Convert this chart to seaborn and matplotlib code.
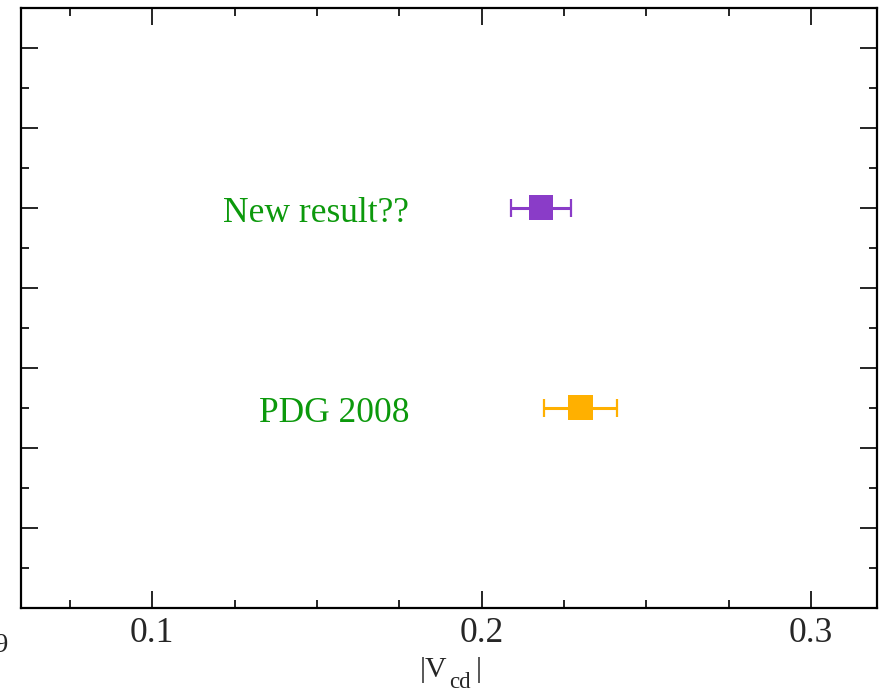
import numpy as np
import pandas as pd
import matplotlib
matplotlib.use("Agg")
import matplotlib.pyplot as plt
import seaborn as sns
from matplotlib.ticker import MultipleLocator, NullFormatter, FixedLocator

# ---- data ----
labels = ["New result??", "PDG 2008"]
vcd = [0.218, 0.230]
vcd_err = [0.009, 0.011]
ypos = [5.0, 2.5]
colors = ["#8a3cc8", "#ffb000"]
xticks = [0.1, 0.2, 0.3]
xticklabels = ["0.1", "0.2", "0.3"]

df = pd.DataFrame({"label": labels, "vcd": vcd, "err": vcd_err, "y": ypos})

sns.set_style("white")
plt.rcParams["font.family"] = ["Liberation Serif", "DejaVu Serif"]

W, H = 882, 692
fig = plt.figure(figsize=(W / 100, H / 100), dpi=100)
ax = fig.add_axes([20.5 / W, 1 - 607.7 / H, (877 - 20.5) / W, (607.7 - 8) / H])

for i, row in df.iterrows():
    ax.errorbar(row["vcd"], row["y"], xerr=row["err"], fmt="none",
                ecolor=colors[i], elinewidth=2.2, capsize=6.2, capthick=1.6, zorder=2)

sns.scatterplot(data=df, x="vcd", y="y", hue="label", palette=colors,
                marker="s", s=320, linewidth=0, legend=False, ax=ax, zorder=3)

for i, row in df.iterrows():
    ax.annotate(row["label"], xy=(0.178, row["y"]), xytext=(0, -10.5),
                textcoords="offset points", ha="right", va="baseline",
                fontsize=25.5, color="#0c990c")

ax.set_xlim(0.06, 0.32)
ax.set_ylim(0, 7.5)
ax.xaxis.set_major_locator(FixedLocator(xticks))
ax.set_xticklabels(xticklabels)
ax.xaxis.set_minor_locator(MultipleLocator(0.025))
ax.yaxis.set_major_locator(MultipleLocator(1))
ax.yaxis.set_minor_locator(MultipleLocator(0.5))
ax.yaxis.set_major_formatter(NullFormatter())

ax.tick_params(which="both", direction="in", top=True, right=True, bottom=True, left=True,
               width=1.2, color="black")
ax.tick_params(which="major", length=12.5, labelsize=25.5, pad=6.5)
ax.tick_params(which="minor", length=6)
for sp in ax.spines.values():
    sp.set_visible(True)
    sp.set_linewidth(1.6)
    sp.set_color("black")

ax.set_xlabel("")
ax.set_ylabel("")

# x-axis title |V_cd| built from pieces (pixel positions from top-left)
def ftext(px, py, s, size, **kw):
    fig.text(px / W, 1 - py / H, s, fontsize=size, va="baseline", **kw)

ftext(419.5, 677, "|V", 21.5)
ftext(449, 688, "cd", 16.5)
ftext(475.5, 677, "|", 21.5)

ftext(8, 652, "0.09", 20, ha="right")

fig.savefig("out.png", dpi=100)
